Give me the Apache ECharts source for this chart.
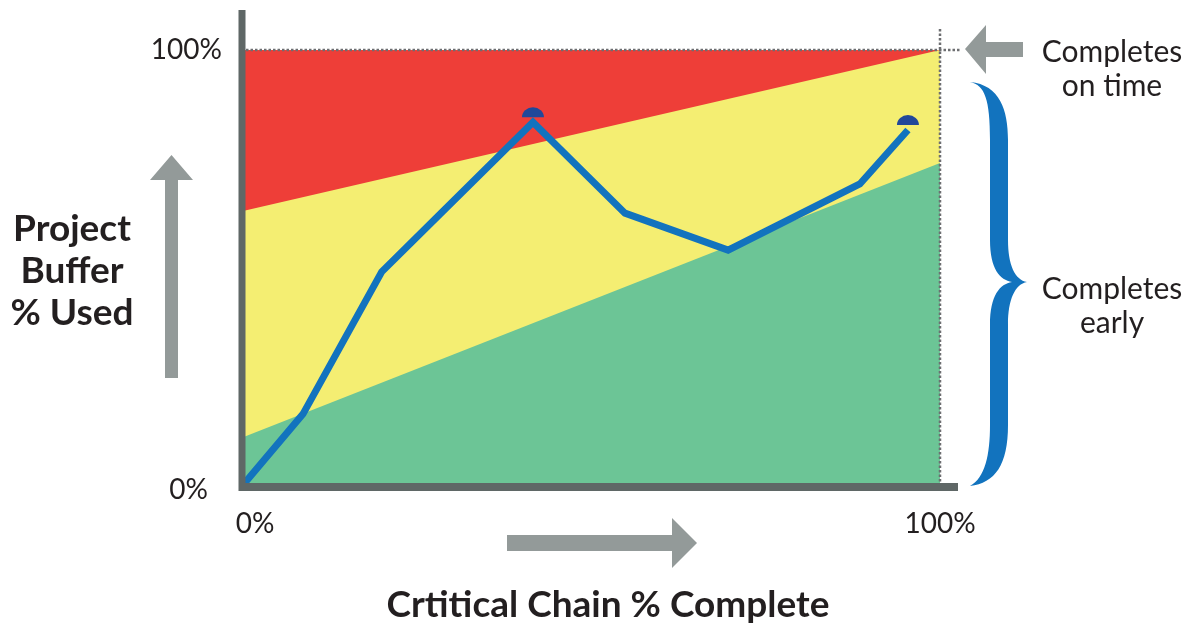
<!DOCTYPE html>
<html>
<head>
<meta charset="utf-8">
<script src="https://cdn.jsdelivr.net/npm/echarts@6/dist/echarts.min.js"></script>
<style>
  html, body { margin: 0; padding: 0; background: #ffffff; }
  #chart { width: 1200px; height: 625px; }
</style>
</head>
<body>
<div id="chart"></div>
<script>
// Buffer zone boundaries (percent of project buffer used) at 0% and 100% chain complete
const zoneX = [0, 100];
const redEdge = [100, 100];
const yellowEdge = [63, 100];
const greenEdge = [11, 74];

// Project progress: critical chain % complete vs. buffer % used
const progressX = [0, 8.6, 19.9, 41.6, 54.8, 69.6, 88.5, 95.4];
const progressY = [0, 16.3, 49, 83.4, 62.5, 54, 69.2, 81.6];
// Points flagged with a dome marker
const flagIndex = [3, 7];

// Axis tick labels
const xTickLabels = { 0: '0%', 100: '100%' };
const yTickLabels = { 0: '0%', 100: '100%' };

const FONT = 'Lato';
const INK = '#231f20';
const AXIS_GREY = '#5f6766';
const ARROW_GREY = '#939a99';
const BLUE = '#1273be';

const zip = (xs, ys) => xs.map((x, i) => [x, ys[i]]);

// Curly brace spanning the "completes early" range
const bracePath = [
  'M970,82',
  'C1000,85 1008,110 1008,140',
  'L1008,240',
  'C1008,265 1015,280 1027,282',
  'C1015,284 1008,300 1008,324',
  'L1008,425',
  'C1008,465 995,483 970,486',
  'C985,478 990,455 990,425',
  'L990,325',
  'C990,295 1000,284 1012,282',
  'C1000,280 990,269 990,240',
  'L990,140',
  'C990,100 985,85 970,82 Z'
].join(' ');

const chart = echarts.init(document.getElementById('chart'), null, { renderer: 'canvas' });

const zoneSeries = (edge, color) => ({
  type: 'line',
  data: zip(zoneX, edge),
  symbol: 'none',
  lineStyle: { width: 0 },
  areaStyle: { color: color, opacity: 1, origin: 'start' },
  silent: true,
  z: 1
});

chart.setOption({
  animation: false,
  grid: { left: 243, right: 260, top: 50, bottom: 140 },
  xAxis: {
    type: 'value', min: 0, max: 100, interval: 100,
    axisLine: { show: false }, axisTick: { show: false }, splitLine: { show: false },
    axisLabel: {
      margin: 25, fontFamily: FONT, fontSize: 28, color: INK,
      formatter: v => v === 0 ? '{first|' + xTickLabels[0] + '}' : (xTickLabels[v] || ''),
      rich: { first: { fontFamily: FONT, fontSize: 28, color: INK, padding: [0, 0, 0, 24] } }
    }
  },
  yAxis: {
    type: 'value', min: 0, max: 100, interval: 100,
    axisLine: { show: false }, axisTick: { show: false }, splitLine: { show: false },
    axisLabel: {
      margin: 21, fontFamily: FONT, fontSize: 28, color: INK,
      formatter: v => v === 0 ? '{first|' + yTickLabels[0] + '}' : (yTickLabels[v] || ''),
      rich: { first: { fontFamily: FONT, fontSize: 28, color: INK, padding: [10, 14, 0, 0] } }
    }
  },
  series: [
    zoneSeries(redEdge, '#ee3e38'),
    zoneSeries(yellowEdge, '#f4ee72'),
    zoneSeries(greenEdge, '#6cc596'),
    {
      type: 'line',
      data: zip(progressX, progressY),
      symbol: 'none',
      lineStyle: { color: BLUE, width: 7, join: 'miter', cap: 'butt' },
      z: 5
    },
    {
      type: 'scatter',
      data: flagIndex.map(i => [progressX[i], progressY[i]]),
      symbol: 'path://M0,10 A10,10 0 0 1 20,10 Z',
      symbolSize: [22, 10],
      symbolKeepAspect: false,
      symbolOffset: [0, -10],
      itemStyle: { color: '#21489a', opacity: 1 },
      z: 6
    },
    {
      type: 'custom',
      data: [[0, 0]],
      silent: true,
      clip: false,
      renderItem: () => ({
        type: 'path',
        shape: { pathData: bracePath, x: 970, y: 82, width: 57, height: 404 },
        style: { fill: BLUE }
      }),
      z: 10
    }
  ]
});

// Decorations positioned from the axis scales
const p00 = chart.convertToPixel({ gridIndex: 0 }, [0, 0]);
const p11 = chart.convertToPixel({ gridIndex: 0 }, [100, 100]);
const x0 = p00[0], y0 = p00[1], x1 = p11[0], y1 = p11[1];

chart.setOption({
  graphic: [
    // dotted guide lines at 100%
    { type: 'line', shape: { x1: x0 + 3, y1: y1, x2: 960, y2: y1 },
      style: { stroke: '#6d6e71', lineWidth: 2.5, lineDash: [2.5, 2] }, z: 10 },
    { type: 'line', shape: { x1: x1, y1: 29, x2: x1, y2: y0 },
      style: { stroke: '#6d6e71', lineWidth: 2.5, lineDash: [2.5, 2] }, z: 10 },
    // axis lines
    { type: 'line', shape: { x1: x0 - 1, y1: 10, x2: x0 - 1, y2: y0 + 6 },
      style: { stroke: AXIS_GREY, lineWidth: 7 }, z: 20 },
    { type: 'line', shape: { x1: x0 - 4, y1: y0 + 2, x2: 958, y2: y0 + 2 },
      style: { stroke: AXIS_GREY, lineWidth: 8 }, z: 20 },
    // direction arrows
    { type: 'polygon', shape: { points: [[150, 180], [171.5, 155], [193, 180], [178, 180], [178, 378], [165, 378], [165, 180]] },
      style: { fill: ARROW_GREY }, z: 10 },
    { type: 'polygon', shape: { points: [[507, 535], [672, 535], [672, 518], [697, 543], [672, 568], [672, 551], [507, 551]] },
      style: { fill: ARROW_GREY }, z: 10 },
    { type: 'polygon', shape: { points: [[965, 49], [986, 25], [986, 42], [1023, 42], [1023, 57], [986, 57], [986, 74]] },
      style: { fill: ARROW_GREY }, z: 10 },
    // annotations
    { type: 'text', x: 1112, y: 69, style: { text: 'Completes\non time', font: '30px Lato', fill: INK,
      align: 'center', verticalAlign: 'middle', lineHeight: 34 }, z: 10 },
    { type: 'text', x: 1112, y: 306, style: { text: 'Completes\nearly', font: '30px Lato', fill: INK,
      align: 'center', verticalAlign: 'middle', lineHeight: 34 }, z: 10 },
    { type: 'text', x: 72, y: 271, style: { text: 'Project\nBuffer\n% Used', font: 'bold 37px Lato', fill: INK,
      align: 'center', verticalAlign: 'middle', lineHeight: 42 }, z: 10 },
    { type: 'text', x: 608, y: 605, style: { text: 'Crtitical Chain % Complete', font: 'bold 37px Lato', fill: INK,
      align: 'center', verticalAlign: 'middle' }, z: 10 }
  ]
});
</script>
</body>
</html>
